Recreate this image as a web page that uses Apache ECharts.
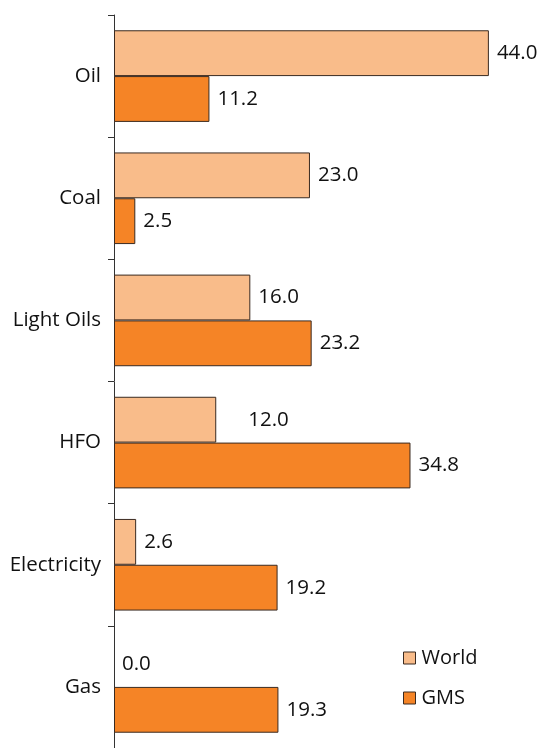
<!DOCTYPE html>
<html>
<head>
<meta charset="utf-8">
<script src="https://cdn.jsdelivr.net/npm/echarts@6/dist/echarts.min.js"></script>
<style>
html,body{margin:0;padding:0;background:#fff;}
#chart{width:540px;height:748px;}
</style>
</head>
<body>
<div id="chart"></div>
<script>
// Fuel categories, top to bottom
const categories = ['Oil', 'Coal', 'Light Oils', 'HFO', 'Electricity', 'Gas'];
// Share values (%) for each series
const worldValues = [44.0, 23.0, 16.0, 12.0, 2.6, 0.0];
const gmsValues = [11.2, 2.5, 23.2, 34.8, 19.2, 19.3];

const fontFamily = '"Open Sans", "Noto Sans", sans-serif';
const textColor = '#111';
const borderColor = '#3a2a20';

const labelStyle = {
  show: true,
  position: 'right',
  distance: 8,
  fontSize: 20.5,
  color: textColor,
  fontFamily: fontFamily,
  formatter: p => p.value.toFixed(1)
};

function buildData(values, extra) {
  return values.map((v, i) => {
    const item = { value: v };
    if (v === 0) item.itemStyle = { borderWidth: 0 };
    if (extra) extra(item, i);
    return item;
  });
}

const worldData = buildData(worldValues, (item, i) => {
  // the HFO label sits a little further out from its bar
  if (categories[i] === 'HFO') item.label = { offset: [24, 0] };
});
const gmsData = buildData(gmsValues);

const chart = echarts.init(document.getElementById('chart'), null, { renderer: 'canvas' });
chart.setOption({
  animation: false,
  backgroundColor: '#fff',
  grid: { left: 114, top: 15, width: 426, height: 738, containLabel: false },
  legend: {
    orient: 'vertical',
    left: 398,
    top: 643,
    icon: 'rect',
    itemWidth: 12,
    itemHeight: 12,
    itemGap: 20,
    itemStyle: { borderColor: borderColor, borderWidth: 1 },
    textStyle: { fontSize: 20, color: textColor, fontFamily: fontFamily, padding: [0, 0, 0, 1] },
    data: ['World', 'GMS']
  },
  xAxis: {
    type: 'value',
    min: 0,
    max: 50,
    show: false
  },
  yAxis: {
    type: 'category',
    inverse: true,
    data: categories,
    axisLine: { show: true, lineStyle: { color: '#333', width: 1 } },
    axisTick: { show: true, length: 6, lineStyle: { color: '#333' } },
    axisLabel: { fontSize: 20.5, color: textColor, margin: 13, fontFamily: fontFamily }
  },
  series: [
    {
      name: 'World',
      type: 'bar',
      data: worldData,
      barGap: '0%',
      barCategoryGap: '25%',
      itemStyle: { color: '#F9BC8A', borderColor: borderColor, borderWidth: 1 },
      label: labelStyle
    },
    {
      name: 'GMS',
      type: 'bar',
      data: gmsData,
      barGap: '0%',
      barCategoryGap: '25%',
      itemStyle: { color: '#F58426', borderColor: borderColor, borderWidth: 1 },
      label: labelStyle
    }
  ]
});
</script>
</body>
</html>
